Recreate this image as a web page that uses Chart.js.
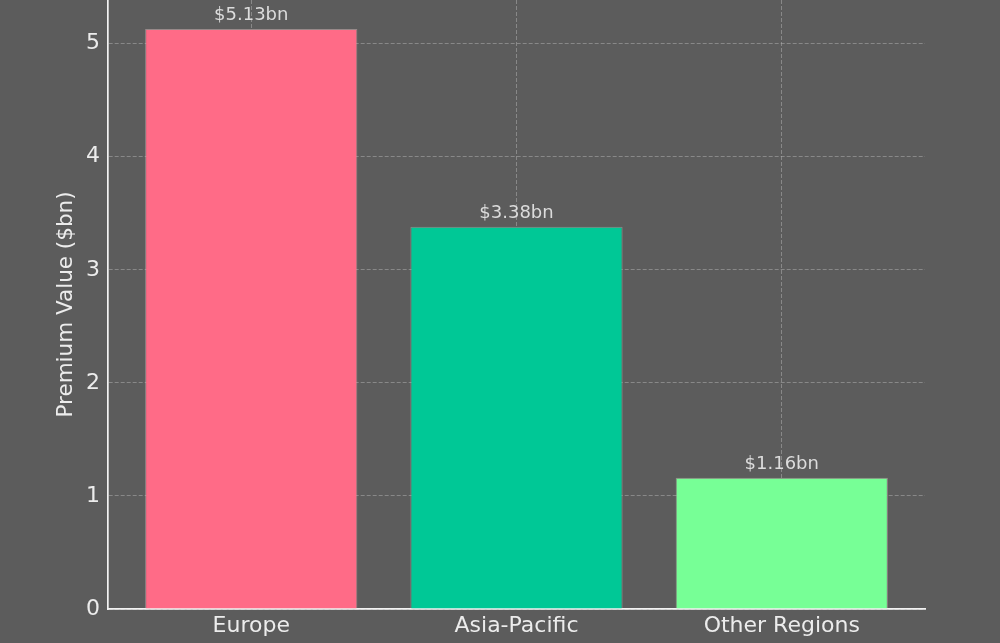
<!DOCTYPE html>
<html>
<head>
<meta charset="utf-8">
<script src="https://cdn.jsdelivr.net/npm/chart.js@4.4.1/dist/chart.umd.min.js"></script>
<style>
  html, body { margin: 0; padding: 0; background: #5c5c5c; }
  #wrap { width: 1000px; height: 643px; position: relative; }
  canvas { display: block; }
</style>
</head>
<body>
<div id="wrap"><canvas id="c" width="1000" height="643"></canvas></div>
<script>
const categories = ["Europe", "Asia-Pacific", "Other Regions"];
const premiumValues = [5.13, 3.38, 1.16];
const valueLabels = ["$5.13bn", "$3.38bn", "$1.16bn"];
const yTicks = [0, 1, 2, 3, 4, 5];
const barColors = ["#ff6b87", "#00c896", "#77ff96"];

const FONT = "'DejaVu Sans', sans-serif";

const valueLabelPlugin = {
  id: 'valueLabels',
  afterDatasetsDraw(chart) {
    const ctx = chart.ctx;
    const meta = chart.getDatasetMeta(0);
    ctx.save();
    ctx.font = "18px " + FONT;
    ctx.fillStyle = "#dcdcdc";
    ctx.textAlign = "center";
    ctx.textBaseline = "alphabetic";
    meta.data.forEach((bar, i) => {
      ctx.fillText(valueLabels[i], bar.x, bar.y - 9);
    });
    ctx.restore();
  }
};

new Chart(document.getElementById('c'), {
  type: 'bar',
  data: {
    datasets: [{
      data: premiumValues.map((v, i) => ({ x: i, y: v })),
      backgroundColor: barColors,
      borderColor: "rgba(225,195,195,0.45)",
      borderWidth: 1,
      barPercentage: 0.8,
      categoryPercentage: 1.0
    }]
  },
  options: {
    responsive: false,
    animation: false,
    layout: { autoPadding: false, padding: { left: 0, right: 75, top: 0, bottom: 0 } },
    plugins: { legend: { display: false }, tooltip: { enabled: false } },
    scales: {
      x: {
        type: 'linear',
        min: -0.54,
        max: categories.length - 1 + 0.54,
        offset: false,
        z: 1,
        afterBuildTicks(s) { s.ticks = s.ticks.filter(t => Number.isInteger(t.value) && t.value >= 0 && t.value < categories.length); },
        afterFit(s) { s.height = 34; s.paddingLeft = 0; s.paddingRight = 0; },
        ticks: {
          stepSize: 1,
          autoSkip: false,
          maxRotation: 0,
          padding: 4,
          color: "#ececec",
          font: { family: FONT, size: 22 },
          callback: (v) => categories[v]
        },
        grid: { offset: false, color: "rgba(180,180,180,0.5)", lineWidth: 1, drawTicks: false },
        border: { display: true, color: "#f2f2f2", width: 1.7, dash: [4, 2] }
      },
      y: {
        min: 0,
        max: 5.3865,
        z: 1,
        afterBuildTicks(s) { s.ticks = yTicks.map(v => ({ value: v })); },
        afterFit(s) { s.width = 108; s.paddingTop = 0; s.paddingBottom = 0; },
        ticks: {
          stepSize: 1,
          padding: 8,
          color: "#ececec",
          font: { family: FONT, size: 22 }
        },
        title: {
          display: true,
          text: "Premium Value ($bn)",
          color: "#ececec",
          font: { family: FONT, size: 21.5 },
          padding: { top: 54, bottom: 0 }
        },
        grid: { offset: false, color: "rgba(180,180,180,0.5)", lineWidth: 1, drawTicks: false },
        border: { display: true, color: "#f2f2f2", width: 1.7, dash: [4, 2] }
      }
    }
  },
  plugins: [valueLabelPlugin]
});
</script>
</body>
</html>
